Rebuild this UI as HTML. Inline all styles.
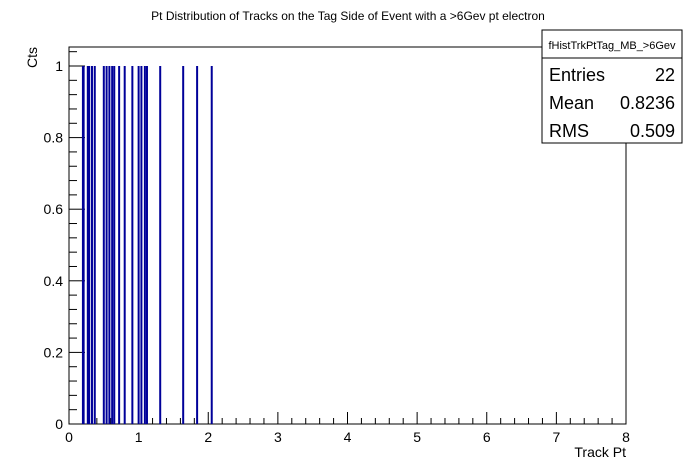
<!DOCTYPE html>
<html><head><meta charset="utf-8"><style>
body{margin:0;background:#fff;}
svg{display:block;font-family:"Liberation Sans",sans-serif;}
</style></head><body>
<svg id="c" width="696" height="472" xmlns="http://www.w3.org/2000/svg">
<text x="348" y="20" font-size="12" text-anchor="middle">Pt Distribution of Tracks on the Tag Side of Event with a &gt;6Gev pt electron</text>
<rect x="69" y="47" width="557" height="377" fill="none" stroke="#000" stroke-width="1"/>
<g id="ticks"></g>
<g id="bars"></g>
<text x="626" y="457" font-size="14" text-anchor="end">Track Pt</text>
<text x="0" y="0" font-size="14" text-anchor="end" transform="translate(37,47) rotate(-90)">Cts</text>
<g>
<rect x="542" y="30" width="140" height="113" fill="#fff" stroke="#000"/>
<line x1="542" y1="58" x2="682" y2="58" stroke="#000"/>
<text x="612" y="49" font-size="11" text-anchor="middle">fHistTrkPtTag_MB_&gt;6Gev</text>
<text x="549" y="81" font-size="18">Entries</text><text x="675" y="81" font-size="18" text-anchor="end">22</text>
<text x="549" y="109" font-size="18">Mean</text><text x="675" y="109" font-size="18" text-anchor="end">0.8236</text>
<text x="549" y="137" font-size="18">RMS</text><text x="675" y="137" font-size="18" text-anchor="end">0.509</text>
</g>
</svg>
<script>
const trackPt = [0.20,0.21,0.27,0.29,0.33,0.37,0.50,0.54,0.58,0.62,0.65,0.72,0.80,0.91,1.00,1.04,1.09,1.12,1.31,1.64,1.84,2.05];
const counts = [1,1,1,1,1,1,1,1,1,1,1,1,1,1,1,1,1,1,1,1,1,1];
const xTickLabels = ["0","1","2","3","4","5","6","7","8"];
const yTickLabels = ["0","0.2","0.4","0.6","0.8","1"];
const NS="http://www.w3.org/2000/svg";
const X0=69,X1=626,Y0=424,Y1=66;
const xs=v=>X0+(v/8)*(X1-X0);
const ys=v=>Y0-v*(Y0-Y1);
const tg=document.getElementById('ticks'), bg=document.getElementById('bars');
function line(g,x1,y1,x2,y2,col,w){const l=document.createElementNS(NS,'line');l.setAttribute('x1',x1);l.setAttribute('y1',y1);l.setAttribute('x2',x2);l.setAttribute('y2',y2);l.setAttribute('stroke',col);l.setAttribute('stroke-width',w);g.appendChild(l);return l;}
function text(g,x,y,s,anchor){const t=document.createElementNS(NS,'text');t.setAttribute('x',x);t.setAttribute('y',y);t.setAttribute('font-size','14');t.setAttribute('text-anchor',anchor);t.textContent=s;g.appendChild(t);return t;}
for(let i=0;i<=40;i++){const v=i*0.2,x=xs(v),maj=i%5===0;line(tg,x,Y0,x,Y0-(maj?12:6),'#000',1);}
xTickLabels.forEach(s=>{const t=text(tg,xs(+s),442,s,'middle');

});
for(let i=0;i<=26;i++){const v=i*0.04,y=ys(v);if(y<47)break;const maj=i%5===0;line(tg,X0,y,X0+(maj?16:8),y,'#000',1);}
yTickLabels.forEach(s=>{const t=text(tg,63,ys(+s)+5,s,'end');

});
trackPt.forEach((v,i)=>{const r=document.createElementNS(NS,'rect');const x=xs(v);
r.setAttribute('x',x-1);r.setAttribute('width',2);r.setAttribute('y',ys(counts[i]));r.setAttribute('height',Y0-ys(counts[i]));r.setAttribute('fill','#000099');


bg.appendChild(r);});
</script>
</body></html>
